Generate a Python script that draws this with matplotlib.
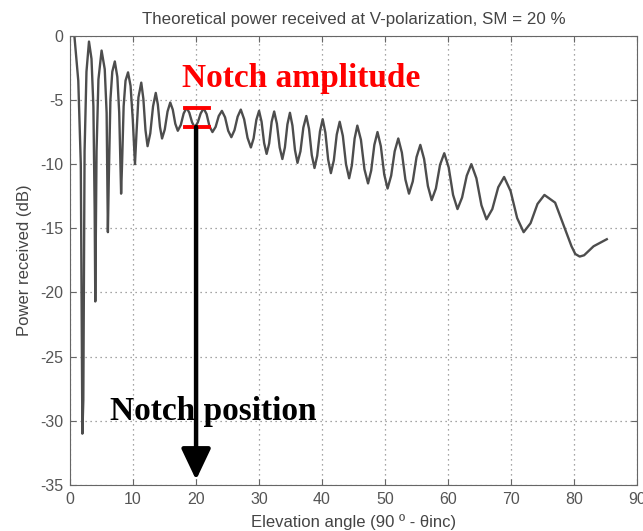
import numpy as np
import matplotlib
matplotlib.use('Agg')
import matplotlib.pyplot as plt

plt.rcParams['axes.unicode_minus'] = False

# curve: elevation angle (deg) and received power (dB)
elev = [0.7, 1.3, 1.7, 1.95, 2.1, 2.3, 2.6, 3.0, 3.4, 3.7, 3.9, 4.0, 4.2, 4.5,
        5.0, 5.5, 5.8, 6.0, 6.15, 6.4, 6.7, 7.1, 7.5, 7.8, 8.1, 8.25, 8.5, 8.8,
        9.2, 9.6, 9.95, 10.3, 10.55, 10.85, 11.3, 11.63, 11.97, 12.3, 12.73, 13.17,
        13.6, 13.93, 14.27, 14.6, 15.03, 15.47, 15.9, 16.3, 16.7, 17.1, 17.57, 18.03,
        18.5, 18.93, 19.37, 19.8, 20.27, 20.73, 21.2, 21.67, 22.13, 22.6, 23.1, 23.6,
        24.1, 24.6, 25.1, 25.6, 26.1, 26.6, 27.1, 27.63, 28.17, 28.7, 29.13, 29.57,
        30.0, 30.4, 30.8, 31.2, 31.6, 32.0, 32.4, 32.83, 33.27, 33.7, 34.1, 34.5,
        34.9, 35.3, 35.7, 36.1, 36.57, 37.03, 37.5, 37.93, 38.37, 38.8, 39.23, 39.67,
        40.1, 40.53, 40.97, 41.4, 41.87, 42.33, 42.8, 43.3, 43.8, 44.3, 44.73, 45.17,
        45.6, 46.17, 46.73, 47.3, 47.8, 48.3, 48.8, 49.33, 49.87, 50.4, 50.97, 51.53,
        52.1, 52.67, 53.23, 53.8, 54.4, 55.0, 55.6, 56.2, 56.8, 57.4, 58.07, 58.73,
        59.4, 60.1, 60.8, 61.5, 62.23, 62.97, 63.7, 64.5, 65.3, 66.1, 67.03, 67.97,
        68.9, 69.93, 70.97, 72.0, 73.1, 74.2, 75.3, 77.0, 78.6, 79.6, 80.2, 80.9,
        81.6, 83.1, 85.2]
power = [-0.1, -3.5, -10.0, -31.0, -28.4, -9.0, -2.8, -0.45, -1.8, -5.5, -13.5, -20.7, -9.0, -3.4,
         -1.15, -2.6, -6.0, -15.3, -11.0, -5.0, -2.8, -2.0, -3.2, -6.0, -12.3, -10.0, -5.5, -3.5,
         -2.85, -3.9, -6.5, -10.0, -7.5, -4.8, -3.65, -4.9, -7.35, -8.6, -7.6, -5.5,
         -4.45, -5.35, -7.1, -8.0, -7.3, -5.9, -5.2, -5.75, -6.85, -7.4, -6.95, -6.05,
         -5.6, -6.0, -6.75, -7.15, -6.75, -6.05, -5.65, -6.1, -7.05, -7.5, -7.1, -6.25,
         -5.85, -6.35, -7.4, -7.9, -7.35, -6.3, -5.75, -6.5, -7.95, -8.7, -8.0, -6.55,
         -5.85, -6.7, -8.35, -9.2, -8.4, -6.7, -5.9, -6.85, -8.7, -9.6, -8.7, -6.9,
         -6.0, -7.0, -8.9, -9.9, -9.0, -7.15, -6.25, -7.25, -9.3, -10.3, -9.35, -7.45,
         -6.5, -7.55, -9.65, -10.7, -9.7, -7.7, -6.7, -7.8, -10.0, -11.1, -10.1, -8.0,
         -7.0, -8.1, -10.4, -11.5, -10.5, -8.5, -7.5, -8.6, -10.8, -11.9, -10.9, -9.0,
         -8.0, -9.1, -11.2, -12.3, -11.35, -9.45, -8.5, -9.6, -11.7, -12.8, -11.9, -10.05,
         -9.15, -10.25, -12.4, -13.5, -12.6, -10.9, -10.0, -11.1, -13.2, -14.3, -13.5, -11.8,
         -11.0, -12.1, -14.2, -15.3, -14.6, -13.1, -12.4, -13.0, -15.1, -16.4, -17.0, -17.2,
         -17.1, -16.4, -15.85]

notch_x = 20
amp_top = -5.6
amp_bottom = -7.1

fig = plt.figure(figsize=(6.43, 5.31), dpi=100)
ax = fig.add_axes([0.109, 0.0866, 0.8817, 0.846])

ax.plot(elev, power, color='#4d4d4d', linewidth=1.7, solid_joinstyle='round')

ax.set_xlim(0, 90)
ax.set_ylim(-35, 0)
ax.set_xticks(np.arange(0, 91, 10))
ax.set_yticks(np.arange(-35, 1, 5))
ax.grid(True, linestyle=(0, (1, 3)), color='#888888', linewidth=0.9)
ax.tick_params(direction='in', length=4, colors='#666666', labelcolor='#555555',
               labelsize=11.5, top=True, right=True, pad=5)
for s in ax.spines.values():
    s.set_color('#666666')

font = 'Liberation Sans'
for lab in ax.get_xticklabels() + ax.get_yticklabels():
    lab.set_family(font)
ax.set_title('Theoretical power received at V-polarization, SM = 20 %', fontsize=12.2,
             color='#444444', family=font, pad=8.5)
ax.set_xlabel('Elevation angle (90 º - θinc)', fontsize=12, color='#444444',
              family=font, labelpad=5)
ax.set_ylabel('Power received (dB)', fontsize=12, color='#444444', family=font,
              labelpad=6)

# notch amplitude markers
ax.plot([18.3, 22.0], [amp_top, amp_top], color='red', linewidth=2.8)
ax.plot([18.3, 22.0], [amp_bottom, amp_bottom], color='red', linewidth=2.8)
ax.annotate('', xy=(notch_x, -34.6), xytext=(notch_x, amp_bottom),
            arrowprops=dict(arrowstyle='-|>,head_length=1.9,head_width=0.9',
                            color='black', linewidth=3.2, shrinkA=0, shrinkB=0))

ax.text(17.8, -3.3, 'Notch amplitude', color='red', fontsize=24, fontweight='bold',
        family='Liberation Serif', ha='left', va='center')
ax.text(6.35, -29.25, 'Notch position', color='black', fontsize=24, fontweight='bold',
        family='Liberation Serif', ha='left', va='center')

fig.savefig('out.png', dpi=100)
